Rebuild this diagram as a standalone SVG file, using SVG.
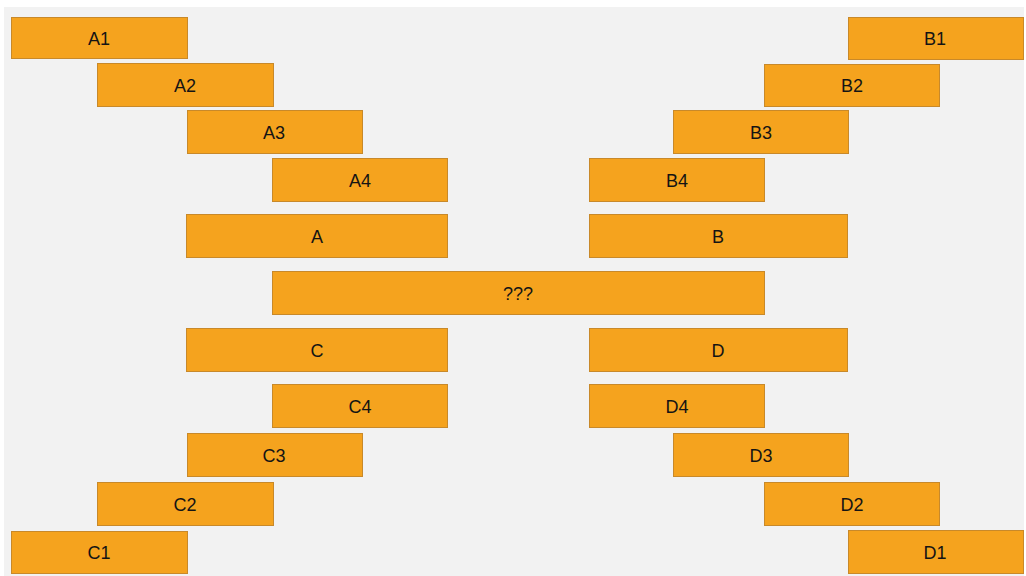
<svg xmlns="http://www.w3.org/2000/svg" width="1026" height="576" viewBox="0 0 1026 576">
  <style>
    .box { fill: #F5A31E; stroke: #C8892A; stroke-width: 1; }
    .lbl { font-family: "Liberation Sans", Arial, sans-serif; font-size: 18px; fill: #141414; text-anchor: middle; }
  </style>
  <rect x="0" y="0" width="1026" height="576" fill="#ffffff"/>
  <rect x="4" y="7" width="1020" height="569" fill="#f2f2f2"/>

  <g id="connectors"></g>

  <!-- left upper stair -->
  <g id="A1"><rect class="box" x="11.5" y="17.5" width="176" height="41"/><text class="lbl" x="99" y="44.5">A1</text></g>
  <g id="A2"><rect class="box" x="97.5" y="63.5" width="176" height="43"/><text class="lbl" x="185" y="91.5">A2</text></g>
  <g id="A3"><rect class="box" x="187.5" y="110.5" width="175" height="43"/><text class="lbl" x="274" y="138.5">A3</text></g>
  <g id="A4"><rect class="box" x="272.5" y="158.5" width="175" height="43"/><text class="lbl" x="360" y="186.5">A4</text></g>
  <g id="A"><rect class="box" x="186.5" y="214.5" width="261" height="43"/><text class="lbl" x="317" y="242.5">A</text></g>

  <!-- right upper stair -->
  <g id="B1"><rect class="box" x="848.5" y="17.5" width="175" height="42"/><text class="lbl" x="935" y="45">B1</text></g>
  <g id="B2"><rect class="box" x="764.5" y="64.5" width="175" height="42"/><text class="lbl" x="852" y="92">B2</text></g>
  <g id="B3"><rect class="box" x="673.5" y="110.5" width="175" height="43"/><text class="lbl" x="761" y="138.5">B3</text></g>
  <g id="B4"><rect class="box" x="589.5" y="158.5" width="175" height="43"/><text class="lbl" x="677" y="186.5">B4</text></g>
  <g id="B"><rect class="box" x="589.5" y="214.5" width="258" height="43"/><text class="lbl" x="718" y="242.5">B</text></g>

  <!-- centre -->
  <g id="center"><rect class="box" x="272.5" y="271.5" width="492" height="43"/><text class="lbl" x="518" y="299.5">???</text></g>

  <!-- left lower stair -->
  <g id="C"><rect class="box" x="186.5" y="328.5" width="261" height="43"/><text class="lbl" x="317" y="356.5">C</text></g>
  <g id="C4"><rect class="box" x="272.5" y="384.5" width="175" height="43"/><text class="lbl" x="360" y="412.5">C4</text></g>
  <g id="C3"><rect class="box" x="187.5" y="433.5" width="175" height="43"/><text class="lbl" x="274" y="461.5">C3</text></g>
  <g id="C2"><rect class="box" x="97.5" y="482.5" width="176" height="43"/><text class="lbl" x="185" y="510.5">C2</text></g>
  <g id="C1"><rect class="box" x="11.5" y="531.5" width="176" height="42"/><text class="lbl" x="99" y="559">C1</text></g>

  <!-- right lower stair -->
  <g id="D"><rect class="box" x="589.5" y="328.5" width="258" height="43"/><text class="lbl" x="718" y="356.5">D</text></g>
  <g id="D4"><rect class="box" x="589.5" y="384.5" width="175" height="43"/><text class="lbl" x="677" y="412.5">D4</text></g>
  <g id="D3"><rect class="box" x="673.5" y="433.5" width="175" height="43"/><text class="lbl" x="761" y="461.5">D3</text></g>
  <g id="D2"><rect class="box" x="764.5" y="482.5" width="175" height="43"/><text class="lbl" x="852" y="510.5">D2</text></g>
  <g id="D1"><rect class="box" x="848.5" y="530.5" width="175" height="43"/><text class="lbl" x="935" y="558.5">D1</text></g>
</svg>
